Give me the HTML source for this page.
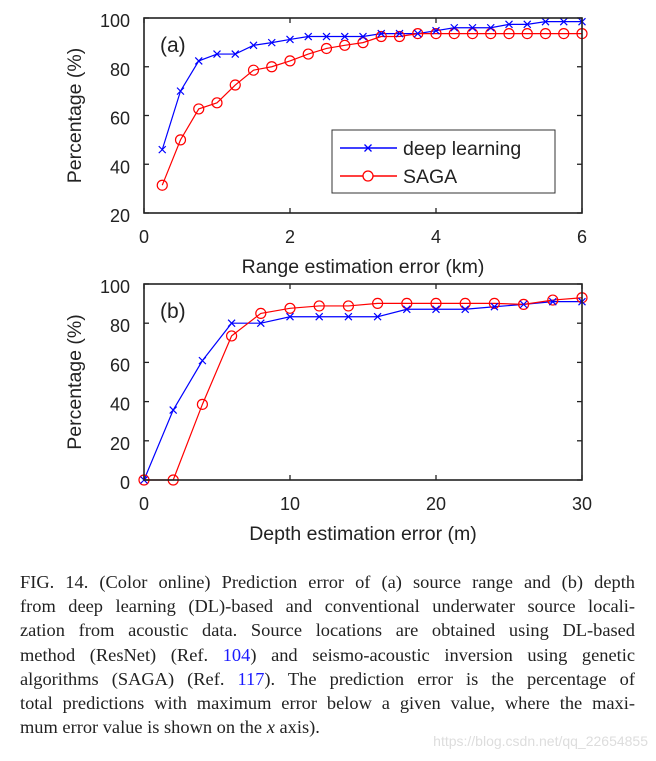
<!DOCTYPE html>
<html><head><meta charset="utf-8"><style>
body{margin:0;background:#fff;width:656px;height:761px;overflow:hidden;position:relative}
svg text{font-family:"Liberation Sans",sans-serif;fill:#222}
#cap{position:absolute;left:20px;top:570px;width:615px;font-family:"Liberation Serif",serif;font-size:18.4px;line-height:24.2px;color:#222}
#cap div{text-align:justify;text-align-last:justify;white-space:nowrap}
#cap div.last{text-align-last:left}
#cap a{color:#1a1aff;text-decoration:none}
#wm{position:absolute;right:8px;top:733px;font-family:"Liberation Sans",sans-serif;font-size:14px;color:#ddd}
</style></head><body>
<svg id="chart" width="656" height="560"></svg>
<div id="cap">
<div>FIG. 14. (Color online) Prediction error of (a) source range and (b) depth</div>
<div>from deep learning (DL)-based and conventional underwater source locali-</div>
<div>zation from acoustic data. Source locations are obtained using DL-based</div>
<div>method (ResNet) (Ref. <a>104</a>) and seismo-acoustic inversion using genetic</div>
<div>algorithms (SAGA) (Ref. <a>117</a>). The prediction error is the percentage of</div>
<div>total predictions with maximum error below a given value, where the maxi-</div>
<div class="last">mum error value is shown on the <i>x</i> axis).</div>
</div>
<div id="wm">https://blog.csdn.net/qq_22654855</div>
<script>
const aX=[0.25,0.5,0.75,1,1.25,1.5,1.75,2,2.25,2.5,2.75,3,3.25,3.5,3.75,4,4.25,4.5,4.75,5,5.25,5.5,5.75,6];
const aDL=[46,70,82.4,85.2,85.2,88.8,89.9,91.2,92.4,92.4,92.4,92.4,93.6,93.6,93.6,94.8,96,96,96,97.4,97.4,98.5,98.5,98.5];
const aSAGA=[31.4,50,62.7,65.2,72.5,78.6,80,82.4,85.2,87.5,88.8,89.9,92.4,92.4,93.6,93.6,93.6,93.6,93.6,93.6,93.6,93.6,93.6,93.6];
const aXTicks=[0,2,4,6];
const aYTicks=[20,40,60,80,100];
const bX=[0,2,4,6,8,10,12,14,16,18,20,22,24,26,28,30];
const bDL=[0,35.7,60.9,80,80,83.3,83.3,83.3,83.3,87.1,87.1,87.1,88.4,89.6,91,91];
const bSAGA=[0,0,38.6,73.5,85,87.6,88.8,88.8,90.1,90.1,90.1,90.1,90.1,89.6,91.8,93];
const bXTicks=[0,10,20,30];
const bYTicks=[0,20,40,60,80,100];
const svg=document.getElementById('chart');
const NS='http://www.w3.org/2000/svg';
function mk(t,a,p){const e=document.createElementNS(NS,t);for(const k in a)e.setAttribute(k,a[k]);(p||svg).appendChild(e);return e;}
function panel(o){
 const g=mk('g',{});
 
 
 const sx=v=>o.L+(v-o.x0)/(o.x1-o.x0)*(o.R-o.L);
 const sy=v=>o.B-(v-o.y0)/(o.y1-o.y0)*(o.B-o.T);
 o.xt.forEach(v=>{
  mk('line',{x1:sx(v),x2:sx(v),y1:o.B,y2:o.B-5,stroke:'#222','stroke-width':1.3},g);
  mk('line',{x1:sx(v),x2:sx(v),y1:o.T,y2:o.T+5,stroke:'#222','stroke-width':1.3},g);
  const t=mk('text',{x:sx(v),y:o.B+30,'text-anchor':'middle','font-size':18},g);t.textContent=v;
  
  
 });
 o.yt.forEach(v=>{
  mk('line',{x1:o.L,x2:o.L+5,y1:sy(v),y2:sy(v),stroke:'#222','stroke-width':1.3},g);
  mk('line',{x1:o.R,x2:o.R-5,y1:sy(v),y2:sy(v),stroke:'#222','stroke-width':1.3},g);
  const t=mk('text',{x:o.L-14,y:sy(v)+9,'text-anchor':'end','font-size':18},g);t.textContent=v;
  
  
 });
 const bl=mk('polyline',{points:o.xs.map((x,i)=>sx(x)+','+sy(o.dl[i])).join(' '),fill:'none',stroke:'#0000ff','stroke-width':1.2},g);
 
 
 const rl=mk('polyline',{points:o.xs.map((x,i)=>sx(x)+','+sy(o.sg[i])).join(' '),fill:'none',stroke:'#ff0000','stroke-width':1.2},g);
 
 
 o.xs.forEach((x,i)=>{
  const c=mk('circle',{cx:sx(x),cy:sy(o.sg[i]),r:5,fill:'none',stroke:'#ff0000','stroke-width':1.2},g);
  
  
  const px=sx(x),py=sy(o.dl[i]);
  const m=mk('path',{d:`M${px-3.5},${py-3.5}L${px+3.5},${py+3.5}M${px-3.5},${py+3.5}L${px+3.5},${py-3.5}`,stroke:'#0000ff','stroke-width':1.2},g);
  
  
 });
 mk('rect',{x:o.L,y:o.T,width:o.R-o.L,height:o.B-o.T,fill:'none',stroke:'#222','stroke-width':1.6},g);
 const lab=mk('text',{x:o.L+16,y:o.T+34,'font-size':21},g);lab.textContent=o.lab;
 
 
 const xt=mk('text',{x:(o.L+o.R)/2,y:o.B+60,'text-anchor':'middle','font-size':19.5},g);xt.textContent=o.xtitle;
 
 
 const cy=(o.T+o.B)/2;
 const yt=mk('text',{x:81,y:cy,'text-anchor':'middle','font-size':19.5,transform:`rotate(-90 81 ${cy})`},g);yt.textContent='Percentage (%)';
 
 
 return g;
}
panel({name:'panel-a-range',L:144,R:582,T:18,B:213,x0:0,x1:6,y0:20,y1:100,xt:aXTicks,yt:aYTicks,xs:aX,dl:aDL,sg:aSAGA,lab:'(a)',xtitle:'Range estimation error (km)'});
panel({name:'panel-b-depth',L:144,R:582,T:284,B:480,x0:0,x1:30,y0:0,y1:100,xt:bXTicks,yt:bYTicks,xs:bX,dl:bDL,sg:bSAGA,lab:'(b)',xtitle:'Depth estimation error (m)'});
const lg=mk('g',{});


mk('rect',{x:332,y:130,width:223,height:63,fill:'#fff',stroke:'#333','stroke-width':1},lg);
mk('line',{x1:340,x2:397,y1:148,y2:148,stroke:'#0000ff','stroke-width':1.6},lg);
mk('path',{d:'M364.5,144.5L371.5,151.5M364.5,151.5L371.5,144.5',stroke:'#0000ff','stroke-width':1.3},lg);
const t1=mk('text',{x:403,y:155,'font-size':19.5},lg);t1.textContent='deep learning';


mk('line',{x1:340,x2:397,y1:176,y2:176,stroke:'#ff0000','stroke-width':1.6},lg);
mk('circle',{cx:368,cy:176,r:5,fill:'#fff',stroke:'#ff0000','stroke-width':1.3},lg);
const t2=mk('text',{x:403,y:183,'font-size':19.5},lg);t2.textContent='SAGA';


</script>
</body></html>
